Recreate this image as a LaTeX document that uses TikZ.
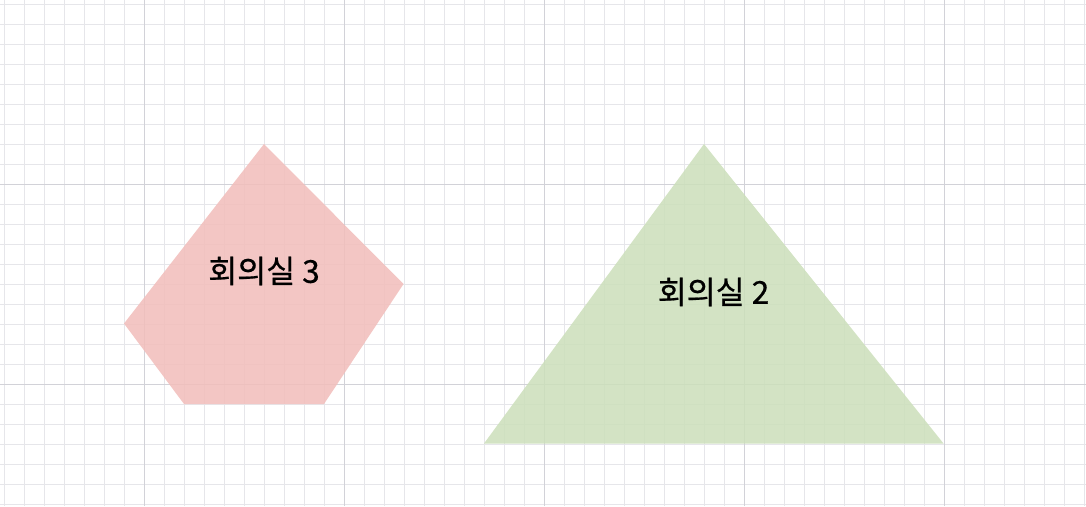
\documentclass[tikz,border=0pt]{standalone}
\usepackage{fontspec}
\newfontfamily\kr[FakeBold=0.6]{Noto Sans CJK KR}
\definecolor{minorgrid}{HTML}{E6E6EA}
\definecolor{majorgrid}{HTML}{D2D2D8}
\definecolor{redfill}{HTML}{F2BDBA}
\definecolor{greenfill}{HTML}{CCDFBA}
\tikzset{
  minorline/.style={draw=minorgrid, line width=1pt},
  majorline/.style={draw=majorgrid, line width=1pt},
  roomshape/.style={draw=none, fill opacity=0.85},
  roomlabel/.style={font=\kr\fontsize{31.5}{34}\selectfont, text=black, inner sep=0pt}
}
\begin{document}
\begin{tikzpicture}[x=1pt,y=-1pt]
\fill[white] (0,0) rectangle (1086,506);
\useasboundingbox (0,0) rectangle (1086,506);
% minor grid
\foreach \i in {0,...,54} {\draw[minorline] (4.5+20*\i,0) -- (4.5+20*\i,506);}
\foreach \j in {0,...,25} {\draw[minorline] (0,4+20*\j) -- (1086,4+20*\j);}
% major grid
\foreach \i in {0,...,4} {\draw[majorline] (144.5+200*\i,0) -- (144.5+200*\i,506);}
\foreach \j in {0,1} {\draw[majorline] (0,184+200*\j) -- (1086,184+200*\j);}
% pentagon
\coordinate (p1) at (264,144);
\coordinate (p2) at (403.5,284);
\coordinate (p3) at (324,404);
\coordinate (p4) at (184,404);
\coordinate (p5) at (124,323.5);
\fill[roomshape, fill=redfill] (p1) -- (p2) -- (p3) -- (p4) -- (p5) -- cycle;
% triangle
\coordinate (t1) at (704,144);
\coordinate (t2) at (943.5,443.5);
\coordinate (t3) at (484,443.5);
\fill[roomshape, fill=greenfill] (t1) -- (t2) -- (t3) -- cycle;
% labels
\node[roomlabel] (room3) at (264,271) {회의실 3};
\node[roomlabel] (room2) at (713.5,292) {회의실 2};
\end{tikzpicture}
\end{document}
